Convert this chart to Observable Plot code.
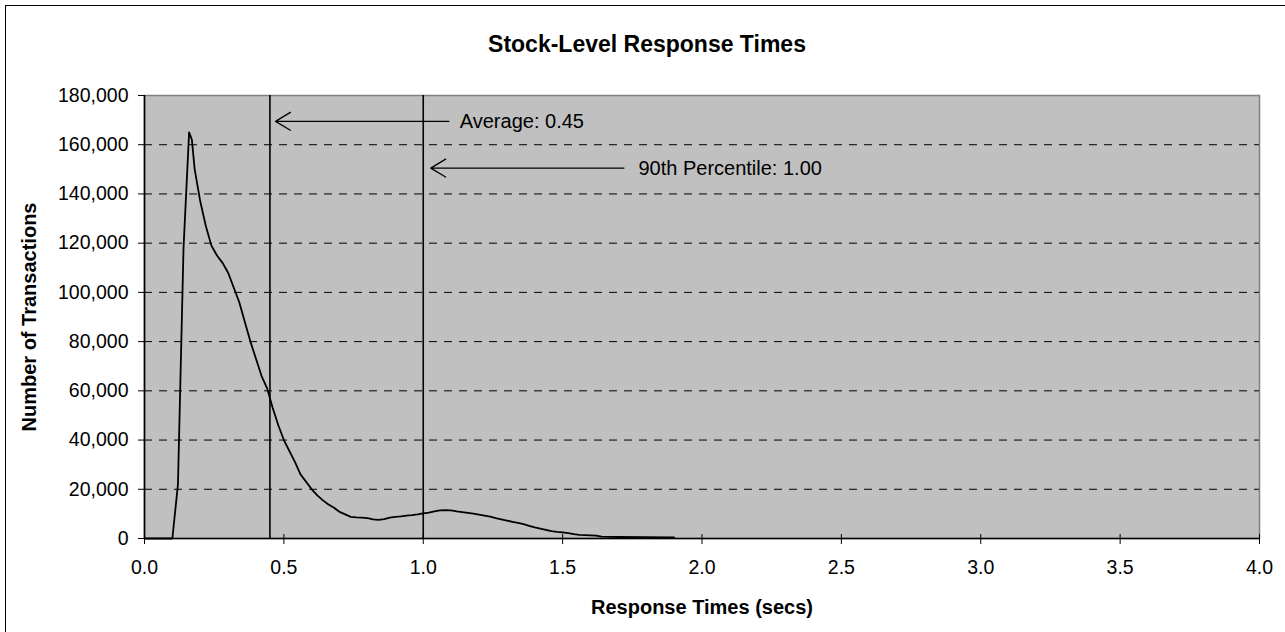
<!DOCTYPE html>
<html>
<head>
<meta charset="utf-8">
<script src="https://cdn.jsdelivr.net/npm/d3@7"></script>
<script src="https://cdn.jsdelivr.net/npm/@observablehq/plot@0.6"></script>
<style>
  html, body { margin: 0; padding: 0; background: #fff; overflow: hidden; }
  #wrap { position: relative; width: 1285px; height: 632px; }
  #border { position: absolute; left: 5px; top: 5px; width: 1300px; height: 640px;
            border-left: 1.5px solid #000; border-top: 1.5px solid #000; }
  svg { position: absolute; left: 0; top: 0; font-family: "Liberation Sans", Arial, sans-serif; }
  g[aria-label="x-axis label"] text, g[aria-label="y-axis label"] text { font-weight: bold; font-size: 20px; }
</style>
</head>
<body>
<div id="wrap"><div id="border"></div></div>
<script>
// ---- data ----
const chartTitle = "Stock-Level Response Times";
const xTitle = "Response Times (secs)";
const yTitle = "Number of Transactions";

const times = [0.00, 0.10, 0.12, 0.14, 0.16, 0.17, 0.18, 0.20, 0.22, 0.24, 0.26, 0.28, 0.30, 0.32, 0.34,
  0.36, 0.38, 0.40, 0.42, 0.44, 0.46, 0.48, 0.50, 0.52, 0.54, 0.56, 0.58, 0.60, 0.62, 0.64, 0.66, 0.68,
  0.70, 0.72, 0.74, 0.76, 0.78, 0.80, 0.82, 0.84, 0.86, 0.88, 0.90, 0.92, 0.94, 0.96, 0.98, 1.00, 1.02,
  1.04, 1.06, 1.08, 1.10, 1.12, 1.14, 1.16, 1.18, 1.20, 1.22, 1.24, 1.26, 1.28, 1.30, 1.32, 1.34, 1.36,
  1.38, 1.40, 1.42, 1.44, 1.46, 1.48, 1.50, 1.52, 1.54, 1.56, 1.58, 1.60, 1.62, 1.64, 1.70, 1.80, 1.90];
const counts = [0, 0, 22000, 118000, 165000, 162000, 150000, 137000, 127000, 119000, 115000, 112000, 108000,
  102000, 96000, 88000, 80000, 73000, 66000, 61000, 53000, 46000, 40000, 35500, 31000, 26000, 23000, 20000,
  17500, 15500, 13800, 12500, 10800, 9800, 8800, 8600, 8500, 8300, 7800, 7600, 7900, 8500, 8800, 9000,
  9300, 9500, 9800, 10200, 10500, 11000, 11400, 11500, 11400, 11000, 10700, 10400, 10100, 9700, 9300,
  8900, 8300, 7800, 7300, 6800, 6300, 5800, 5100, 4500, 4000, 3500, 3000, 2700, 2500, 2200, 1800, 1500,
  1400, 1300, 1200, 800, 600, 500, 400];

const xTicks = [0, 0.5, 1, 1.5, 2, 2.5, 3, 3.5, 4];
const yTicks = [0, 20000, 40000, 60000, 80000, 100000, 120000, 140000, 160000, 180000];
const gridValues = [20000, 40000, 60000, 80000, 100000, 120000, 140000, 160000];

const markerTimes = [0.45, 1.00];
const markerLabels = ["Average: 0.45", "90th Percentile: 1.00"];
const arrowTail = [1.092, 1.720];
const arrowHead = [0.470, 1.027];
const arrowLevel = [169500, 150500];
const labelStart = [1.131, 1.772];

const series = times.map((t, i) => ({t, n: counts[i]}));
const arrows = markerLabels.map((label, i) => ({label, x1: arrowTail[i], x2: arrowHead[i], y: arrowLevel[i], lx: labelStart[i]}));

const plot = Plot.plot({
  width: 1285,
  height: 632,
  marginLeft: 144,
  marginRight: 26,
  marginTop: 95,
  marginBottom: 94,
  style: {fontFamily: "'Liberation Sans', Arial, sans-serif", fontSize: "19.5px", background: "transparent", overflow: "visible"},
  x: {domain: [0, 4]},
  y: {domain: [0, 180000]},
  marks: [
    Plot.frame({fill: "#C0C0C0", stroke: "#808080", strokeWidth: 1.5}),
    Plot.ruleY(gridValues, {stroke: "#000", strokeWidth: 1, strokeDasharray: "8,7"}),
    Plot.ruleX(markerTimes, {y1: 0, y2: 180000, stroke: "#000", strokeWidth: 1.6}),
    Plot.line(series, {x: "t", y: "n", stroke: "#000", strokeWidth: 1.8}),
    Plot.arrow(arrows, {x1: "x1", x2: "x2", y1: "y", y2: "y", stroke: "#000", strokeWidth: 1.3, headLength: 20, headAngle: 62}),
    Plot.text(arrows, {x: "lx", y: "y", text: "label", textAnchor: "start", fill: "#000", fontSize: 20}),
    Plot.ruleY([0], {stroke: "#000", strokeWidth: 1.6}),
    Plot.ruleX([0], {stroke: "#000", strokeWidth: 1.6}),
    Plot.axisY(yTicks, {tickSize: 6, tickPadding: 10, tickFormat: d3.format(","), stroke: "#000", color: "#000", fontSize: 19.5,
      label: yTitle, labelAnchor: "center", labelArrow: "none", labelOffset: 123}),
    Plot.axisX(xTicks, {tickSize: 6, tickPadding: 16, tickFormat: d3.format(".1f"), stroke: "#000", color: "#000", fontSize: 19.5,
      label: xTitle, labelAnchor: "center", labelArrow: "none", labelOffset: 75}),
    Plot.axisX(xTicks, {tickSize: -4, text: null, stroke: "#000", label: null}),
    Plot.text([chartTitle], {frameAnchor: "top", dx: -55, dy: -44, lineAnchor: "bottom", fontWeight: "bold", fontSize: 23, fill: "#000"})
  ]
});
document.getElementById("wrap").appendChild(plot);
</script>
</body>
</html>
